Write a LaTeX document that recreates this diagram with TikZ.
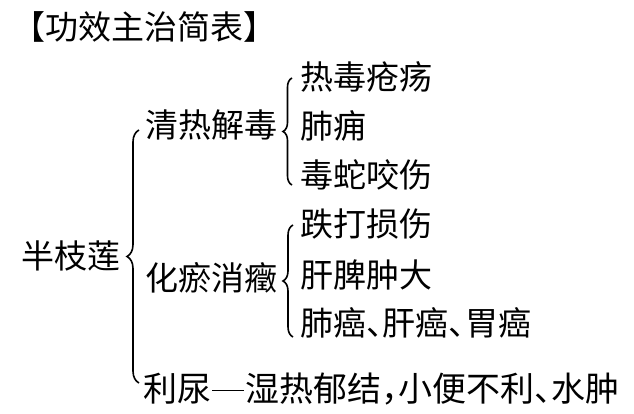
\documentclass[tikz,border=0pt]{standalone}
\usepackage{fontspec}
\newfontfamily\cjk{Noto Sans CJK SC}
\usetikzlibrary{decorations.pathreplacing}
\newcommand{\hp}[1]{\makebox[0.5em][l]{#1}}
\newcommand{\fdash}{\makebox[1em]{\rule[0.3em]{0.95em}{1.3pt}}}
\begin{document}
\begin{tikzpicture}[x=1pt,y=-1pt,
  txt/.style={font=\cjk\fontsize{33}{33}\selectfont, inner sep=0pt, anchor=west},
  big/.style={txt, font=\cjk\fontsize{34}{34}\selectfont},
  brc/.style={decorate, decoration={brace, amplitude=#1}, line width=1.6pt}]
\useasboundingbox (0,0) rectangle (634,414);
\node[txt] (title) at (12,27) {【功效主治简表】};
\node[txt] (root) at (21,256) {半枝莲};
\node[txt] (a) at (145,125) {清热解毒};
\node[txt] (b) at (145,278) {化瘀消癥};
\node[big] (c) at (143,389) {利尿\fdash 湿热郁结\hp{，}小便不利\hp{、}水肿};
\node[txt] (a1) at (300,77) {热毒疮疡};
\node[txt] (a2) at (300,126) {肺痈};
\node[txt] (a3) at (300,175) {毒蛇咬伤};
\node[txt] (b1) at (300,224) {跌打损伤};
\node[txt] (b2) at (300,275) {肝脾肿大};
\node[txt] (b3) at (300,323) {肺癌\hp{、}肝癌\hp{、}胃癌};
\coordinate (r0t) at (139,130);
\coordinate (r0b) at (139,383);
\coordinate (r1t) at (292,78);
\coordinate (r1b) at (292,185);
\coordinate (r2t) at (293,225);
\coordinate (r2b) at (293,337);
\draw[brc=12] (r0b) -- (r0t);
\draw[brc=9] (r1b) -- (r1t);
\draw[brc=10] (r2b) -- (r2t);
\end{tikzpicture}
\end{document}
